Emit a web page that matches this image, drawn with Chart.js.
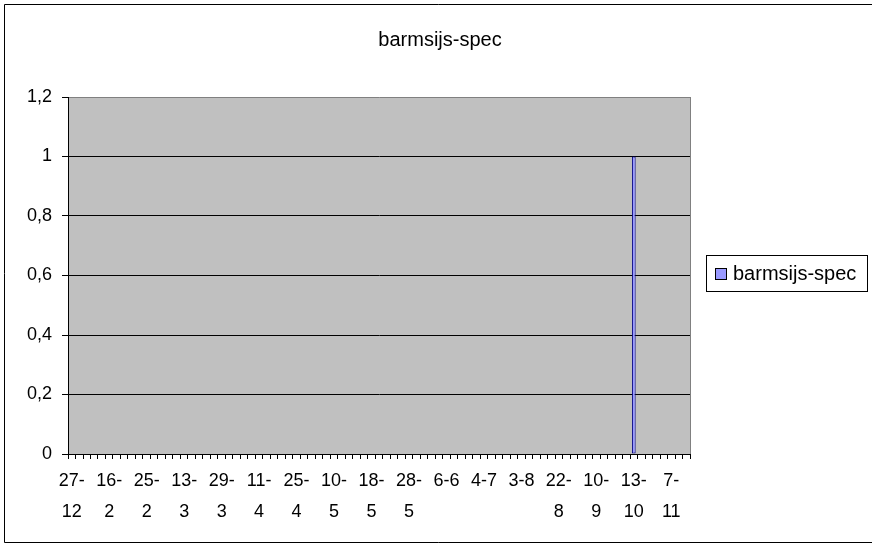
<!DOCTYPE html>
<html>
<head>
<meta charset="utf-8">
<script src="https://cdn.jsdelivr.net/npm/chart.js@4/dist/chart.umd.min.js"></script>
<style>
  html, body { margin: 0; padding: 0; background: #fff; }
  #wrap { width: 872px; height: 544px; }
</style>
</head>
<body>
<div id="wrap"><canvas id="chart1" width="872" height="544"></canvas></div>
<script>
// dates shown under the axis (every 5th category carries a label)
const dateLabels = ['27-12', '16-2', '25-2', '13-3', '29-3', '11-4', '25-4', '10-5', '18-5',
                    '28-5', '6-6', '4-7', '3-8', '22-8', '10-9', '13-10', '7-11']
const labelStep = 5
const categoryCount = 83

// counts per date, only one date has a sighting
const counts = [
    0, 0, 0, 0, 0, 0, 0, 0, 0, 0,
    0, 0, 0, 0, 0, 0, 0, 0, 0, 0,
    0, 0, 0, 0, 0, 0, 0, 0, 0, 0,
    0, 0, 0, 0, 0, 0, 0, 0, 0, 0,
    0, 0, 0, 0, 0, 0, 0, 0, 0, 0,
    0, 0, 0, 0, 0, 0, 0, 0, 0, 0,
    0, 0, 0, 0, 0, 0, 0, 0, 0, 0,
    0, 0, 0, 0, 0, 1, 0, 0, 0, 0,
    0, 0, 0
]

const yTicks = [0, 0.2, 0.4, 0.6, 0.8, 1, 1.2]
const seriesName = 'barmsijs-spec'

const categories = []
for (i = 0; i < categoryCount; i++) {
    var k = i / labelStep
    categories.push(i % labelStep === 0 && k < dateLabels.length ? dateLabels[k] : '')
}

const FONT = 'Liberation Sans, Arial, sans-serif'

const excelLook = {
    id: 'excelLook',
    beforeDraw(chart) {
        const c = chart.ctx, a = chart.chartArea
        c.save()
        c.fillStyle = '#fff'
        c.fillRect(0, 0, chart.width, chart.height)
        c.strokeStyle = '#000'
        c.lineWidth = 1
        c.beginPath()
        c.moveTo(878, 4.5)
        c.lineTo(4.5, 4.5)
        c.lineTo(4.5, 542.5)
        c.lineTo(878, 542.5)
        c.stroke()
        c.fillStyle = '#c0c0c0'
        c.fillRect(a.left, a.top, a.right - a.left, a.bottom - a.top)
        c.restore()
    },
    afterDraw(chart) {
        const c = chart.ctx, a = chart.chartArea
        const ds = chart.data.datasets[0]
        c.save()
        // plot area right edge
        c.strokeStyle = '#808080'
        c.beginPath()
        c.moveTo(Math.round(a.right) + 0.5, a.top)
        c.lineTo(Math.round(a.right) + 0.5, a.bottom)
        c.stroke()
        // title, centred on the whole picture
        c.fillStyle = '#000'
        c.font = '20px ' + FONT
        c.textAlign = 'center'
        c.textBaseline = 'middle'
        c.fillText(ds.label, 440, 40)
        // legend
        c.strokeStyle = '#000'
        c.strokeRect(706.5, 255.5, 161, 36)
        c.fillStyle = ds.backgroundColor
        c.fillRect(715.5, 268.5, 11, 11)
        c.strokeRect(715.5, 268.5, 11, 11)
        c.fillStyle = '#000'
        c.textAlign = 'left'
        c.fillText(ds.label, 733, 274)
        c.restore()
    }
}

ctx = document.getElementById('chart1')
new Chart(ctx, {
    type: 'bar',
    data: {
        labels: categories,
        datasets: [{
            label: seriesName,
            data: counts,
            backgroundColor: '#9999ff',
            borderColor: '#000080',
            borderWidth: 1,
            borderSkipped: false,
            categoryPercentage: 1,
            barPercentage: 0.5
        }]
    },
    plugins: [excelLook],
    options: {
        responsive: false,
        animation: false,
        layout: {
            padding: { left: 17, right: 182, top: 97, bottom: 9 }
        },
        plugins: {
            legend: { display: false },
            tooltip: { enabled: false },
            title: { display: false }
        },
        scales: {
            x: {
                offset: true,
                border: { display: true, color: '#000', width: 1 },
                grid: {
                    offset: true,
                    drawOnChartArea: false,
                    drawTicks: true,
                    tickLength: 5,
                    color: '#000'
                },
                ticks: {
                    autoSkip: false,
                    maxRotation: 0,
                    minRotation: 0,
                    padding: 7,
                    color: '#000',
                    font: { family: FONT, size: 18, lineHeight: '31px' },
                    callback: function (value, index) {
                        var s = categories[index]
                        if (s.length > 3) {
                            var p = s.indexOf('-')
                            return [s.slice(0, p + 1), s.slice(p + 1)]
                        }
                        return s
                    }
                }
            },
            y: {
                min: 0,
                max: 1.2,
                afterBuildTicks: (axis) => {
                    axis.ticks = yTicks.map(v => ({ value: v }))
                },
                border: { display: true, color: '#000', width: 1 },
                grid: {
                    color: (c) => c.tick && c.tick.value === 1.2 ? '#808080' : '#000',
                    tickColor: '#000',
                    tickLength: 6
                },
                ticks: {
                    padding: 10,
                    color: '#000',
                    font: { family: FONT, size: 18 },
                    callback: (value) => String(Math.round(value * 10) / 10).replace('.', ',')
                }
            }
        }
    }
});
</script>
</body>
</html>
